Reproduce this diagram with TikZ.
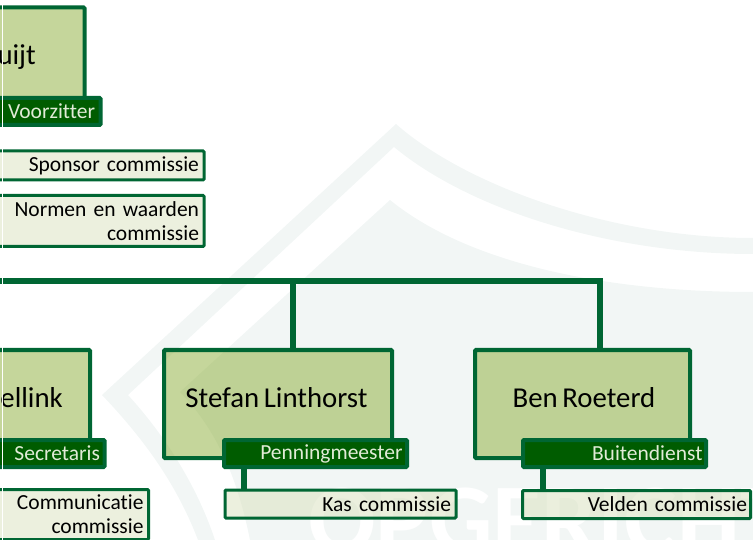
\documentclass[tikz,border=0pt]{standalone}
\usepackage{fontspec}
\setmainfont[Ligatures=NoCommon,WordSpace=0.7]{Carlito}
\definecolor{lijn}{RGB}{0,102,51}
\definecolor{donker}{RGB}{0,92,0}
\definecolor{vlak}{RGB}{139,173,55}
\definecolor{licht}{RGB}{217,225,189}
\definecolor{tekstlicht}{RGB}{225,235,215}
\definecolor{merk}{RGB}{242,246,245}
\tikzset{
  naam/.style={draw=lijn,line width=4pt,fill=vlak,fill opacity=.5,rounded corners=1pt,minimum height=108pt,inner sep=0pt},
  naamtekst/.style={font=\fontsize{28.8}{30}\selectfont,inner sep=0pt},
  functie/.style={draw=lijn,line width=4pt,fill=donker,text=tekstlicht,rounded corners=1pt,minimum height=27pt,font=\fontsize{21.5}{24}\selectfont,align=right,inner sep=0pt,anchor=east},
  groep/.style={draw=lijn,line width=3pt,fill=licht,fill opacity=.5,text opacity=1,rounded corners=1pt,font=\fontsize{21.5}{24}\selectfont,align=right,inner sep=0pt,anchor=east},
  verbinding/.style={draw=lijn,line width=6pt}
}
\begin{document}
\begin{tikzpicture}[x=1pt,y=-1pt]
    \useasboundingbox (0,0) rectangle (753,540);

    % Watermerk
    \fill[merk] (396,124) .. controls (465,185) and (610,238) .. (753,238) -- (753,254)
      .. controls (610,254) and (470,210) .. (394,147) -- (128,395)
      .. controls (160,430) and (195,480) .. (215,540) -- (198,540)
      .. controls (175,480) and (140,435) .. (102,395) -- cycle;
    \fill[merk] (390,200) .. controls (470,265) and (610,292) .. (753,292) -- (753,540) -- (250,540)
      .. controls (240,490) and (222,435) .. (180,392) -- cycle;
    \begin{scope}
      \clip (0,0) rectangle (753,540);
      \node[anchor=base west,text=white,inner sep=0pt,font=\fontsize{100}{100}\selectfont\bfseries] (merktekst) at (308,553) {OPGERICHT};
    \end{scope}

    % Lijnen
    \coordinate (begin) at (0,281);
    \coordinate (tak) at (292.5,281);
    \coordinate (hoek) at (600,281);
    \coordinate (kas) at (244,0);
    \coordinate (velden) at (543,0);

    % Namen
    \node[naam,minimum width=122pt] (voorzitter) at (23.5,61.5) {};
    \node[naam,minimum width=122pt] (secretaris) at (29,404) {};
    \node[naam,minimum width=228pt] (stefan) at (278,404) {};
    \node[naam,minimum width=215pt] (ben) at (582.5,404) {};
    \node[naamtekst,anchor=base east] (uijt) at (36,65) {uijt};
    \node[naamtekst,anchor=base east] (ellink) at (63,407) {ellink};
    \node[naamtekst,anchor=base] (stefantekst) at (276.5,407) {Stefan Linthorst};
    \node[naamtekst,anchor=base] (bentekst) at (584,407) {Ben Roeterd};

    \draw[verbinding] (begin) -- (hoek) -- (ben.north -| hoek);
    \draw[verbinding] (tak) -- (stefan.north -| tak);

    % Functies
    \node[functie,minimum width=120pt,text width=109pt] (f1) at (102.5,111.5) {Voorzitter};
    \node[functie,minimum width=120pt,text width=111pt] (f2) at (106.5,453.5) {Secretaris};
    \node[functie,minimum width=183pt,text width=174pt] (f3) at (409,453.5) {Penningmeester};
    \node[functie,minimum width=183pt,text width=176pt] (f4) at (708,453.5) {Buitendienst};

    % Commissies
    \node[groep,minimum width=220pt,minimum height=29pt,text width=210pt] (c1) at (205.5,165.5) {Sponsor commissie};
    \node[groep,minimum width=220pt,minimum height=51pt,text width=210pt] (c2) at (205.5,221) {Normen en waarden\\commissie};
    \node[groep,minimum width=220pt,minimum height=50pt,text width=210pt] (c3) at (150,514.5) {Communicatie\\commissie};
    \node[groep,minimum width=231pt,minimum height=28pt,text width=221pt] (c4) at (457.5,504) {Kas commissie};
    \node[groep,minimum width=228pt,minimum height=28pt,text width=221pt] (c5) at (752,504.5) {Velden commissie};

    % Verbindingen naar commissies
    \draw[verbinding] (f3.south -| kas) -- (c4.north -| kas);
    \draw[verbinding] (f4.south -| velden) -- (c5.north -| velden);

    % Witte rand
    \draw[white,line width=.8pt] (2,0) -- (2,540);
\end{tikzpicture}
\end{document}
